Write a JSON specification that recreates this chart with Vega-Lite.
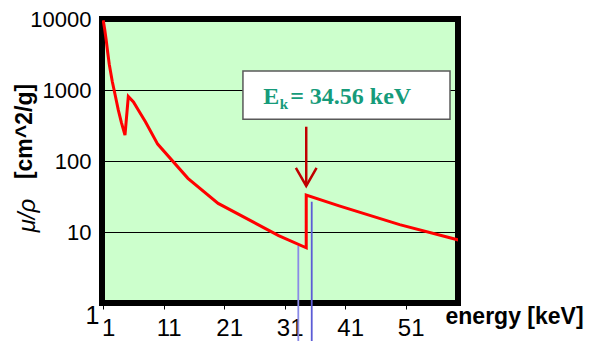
{
  "$schema": "https://vega.github.io/schema/vega-lite/v6.json",
  "width": 356,
  "height": 284,
  "autosize": {"type": "none"},
  "padding": {"left": 102, "top": 19, "right": 153, "bottom": 38},
  "background": "white",
  "config": {
    "view": {"fill": "#CCFFCC", "stroke": "#000000", "strokeWidth": 6},
    "axis": {"labelColor": "black", "titleColor": "black"}
  },
  "datasets": {
    "curve": [
      {"i": 1, "energy": 1, "mu": 9600},
      {"i": 2, "energy": 1.25, "mu": 7100},
      {"i": 3, "energy": 1.5, "mu": 5000},
      {"i": 4, "energy": 1.75, "mu": 3350},
      {"i": 5, "energy": 2, "mu": 2300},
      {"i": 6, "energy": 2.5, "mu": 1320},
      {"i": 7, "energy": 3, "mu": 830},
      {"i": 8, "energy": 3.5, "mu": 520},
      {"i": 9, "energy": 4, "mu": 350},
      {"i": 10, "energy": 4.6, "mu": 232},
      {"i": 11, "energy": 5.15, "mu": 810},
      {"i": 12, "energy": 6, "mu": 680},
      {"i": 13, "energy": 7, "mu": 490},
      {"i": 14, "energy": 8, "mu": 355},
      {"i": 15, "energy": 10, "mu": 173},
      {"i": 16, "energy": 15, "mu": 57},
      {"i": 17, "energy": 20, "mu": 25.3},
      {"i": 18, "energy": 30, "mu": 8.9},
      {"i": 19, "energy": 34.56, "mu": 6.0},
      {"i": 20, "energy": 34.56, "mu": 33},
      {"i": 21, "energy": 40, "mu": 23.3},
      {"i": 22, "energy": 50, "mu": 12.7},
      {"i": 23, "energy": 60, "mu": 7.6}
    ],
    "markers": [
      {"energy": 33.25, "mu": 6.4, "mu2": 0.29, "line": "left"},
      {"energy": 35.47, "mu": 26.7, "mu2": 0.29, "line": "right"}
    ],
    "box": [
      {"energy": 24.1, "energy2": 58.33, "mu": 1853, "mu2": 386}
    ],
    "shaft": [
      {"energy": 34.56, "mu": 304, "mu2": 44.5}
    ],
    "head": [
      {"i": 1, "energy": 32.85, "mu": 79.7},
      {"i": 2, "energy": 34.56, "mu": 44.5},
      {"i": 3, "energy": 36.27, "mu": 79.7}
    ]
  },
  "layer": [
    {
      "encoding": {
        "x": {
          "field": "energy",
          "type": "quantitative",
          "scale": {"domain": [0.8, 59.65], "nice": false, "zero": false},
          "axis": {
            "values": [1, 11, 21, 31, 41, 51],
            "format": "d",
            "grid": false,
            "domain": false,
            "ticks": true,
            "tickSize": 6,
            "tickColor": "black",
            "tickWidth": 1,
            "labelFont": "Liberation Sans",
            "labelFontSize": 24,
            "labelPadding": 7,
            "labelOffset": 5,
            "labelFlush": false,
            "labelOverlap": false,
            "labelBound": false,
            "title": "energy [keV]",
            "titleFont": "Liberation Sans",
            "titleFontSize": 23,
            "titleFontWeight": "bold",
            "titleX": 343,
            "titleY": 20,
            "titleAlign": "left",
            "titleBaseline": "alphabetic"
          }
        },
        "y": {
          "field": "mu",
          "type": "quantitative",
          "scale": {"type": "log", "domain": [1, 10000], "nice": false},
          "axis": {
            "values": [1, 10, 100, 1000, 10000],
            "format": "d",
            "grid": true,
            "gridColor": "black",
            "gridWidth": 1,
            "gridOpacity": 1,
            "ticks": false,
            "domain": false,
            "labelFont": "Liberation Sans",
            "labelFontSize": {"expr": "datum.value == 1 ? 25 : 22"},
            "labelBaseline": {"expr": "datum.value == 1 ? 'top' : 'middle'"},
            "labelPadding": {"expr": "datum.value == 1 ? 3 : 11"},
            "labelFlush": false,
            "labelOverlap": false,
            "labelBound": false,
            "title": "[cm^2/g]",
            "titleFont": "Liberation Sans",
            "titleFontSize": 23,
            "titleFontWeight": "bold",
            "titleAngle": -90,
            "titleX": -78,
            "titleY": 112,
            "titleAlign": "center",
            "titleBaseline": "middle"
          }
        }
      },
      "layer": [
        {
          "data": {"name": "markers"},
          "mark": {"type": "rule", "strokeWidth": 1.8, "clip": false},
          "encoding": {
            "y2": {"field": "mu2"},
            "color": {
              "field": "line",
              "type": "nominal",
              "scale": {"domain": ["left", "right"], "range": ["#8A8AE6", "#5C5CD6"]},
              "legend": null
            }
          }
        },
        {
          "data": {"name": "curve"},
          "mark": {"type": "line", "color": "#FF0000", "strokeWidth": 3, "clip": true},
          "encoding": {
            "order": {"field": "i", "type": "quantitative"}
          }
        },
        {
          "data": {"name": "box"},
          "mark": {"type": "rect", "fill": "white", "stroke": "#595959", "strokeWidth": 1.5},
          "encoding": {
            "x2": {"field": "energy2"},
            "y2": {"field": "mu2"}
          }
        },
        {
          "data": {"values": [{"energy": 27.45, "mu": 635, "label": "E"}]},
          "mark": {"type": "text", "align": "left", "baseline": "alphabetic", "font": "Liberation Serif", "fontWeight": "bold", "fontSize": 24, "color": "#169B7A"},
          "encoding": {"text": {"field": "label"}}
        },
        {
          "data": {"values": [{"energy": 30.2, "mu": 540, "label": "k"}]},
          "mark": {"type": "text", "align": "left", "baseline": "alphabetic", "font": "Liberation Serif", "fontWeight": "bold", "fontSize": 15, "color": "#169B7A"},
          "encoding": {"text": {"field": "label"}}
        },
        {
          "data": {"values": [{"energy": 31.9, "mu": 635, "label": "= 34.56 keV"}]},
          "mark": {"type": "text", "align": "left", "baseline": "alphabetic", "font": "Liberation Serif", "fontWeight": "bold", "fontSize": 24, "color": "#169B7A"},
          "encoding": {"text": {"field": "label"}}
        },
        {
          "data": {"name": "shaft"},
          "mark": {"type": "rule", "color": "#C00000", "strokeWidth": 2.5},
          "encoding": {"y2": {"field": "mu2"}}
        },
        {
          "data": {"name": "head"},
          "mark": {"type": "line", "color": "#C00000", "strokeWidth": 2.5, "strokeJoin": "miter"},
          "encoding": {"order": {"field": "i", "type": "quantitative"}}
        }
      ]
    },
    {
      "data": {"values": [{"energy": 30, "mu": 10}]},
      "mark": {"type": "point", "opacity": 0},
      "encoding": {
        "x": {
          "field": "energy",
          "type": "quantitative",
          "scale": {"domain": [0.8, 59.65], "nice": false, "zero": false},
          "axis": null
        },
        "y": {
          "field": "mu",
          "type": "quantitative",
          "scale": {"type": "log", "domain": [1, 10000], "nice": false},
          "axis": {
            "orient": "left",
            "labels": false,
            "ticks": false,
            "domain": false,
            "grid": false,
            "title": "μ/ρ",
            "titleFont": "Liberation Sans",
            "titleFontSize": 24,
            "titleFontStyle": "italic",
            "titleFontWeight": "normal",
            "titleAngle": -90,
            "titleX": -75,
            "titleY": 196,
            "titleAlign": "center",
            "titleBaseline": "middle"
          }
        }
      }
    }
  ],
  "resolve": {"axis": {"y": "independent", "x": "independent"}}
}
